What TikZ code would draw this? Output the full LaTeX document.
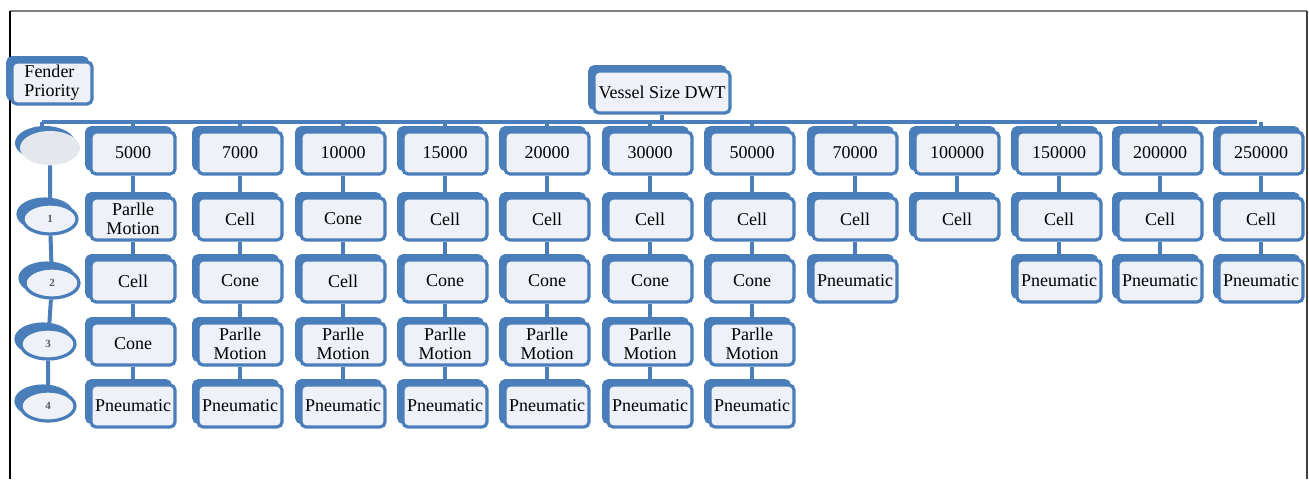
\documentclass[tikz,border=0pt]{standalone}
\usepackage{fontspec}
\setmainfont{Liberation Serif}
\usetikzlibrary{positioning,shapes.geometric,shadows}
\definecolor{fblue}{HTML}{4A7EBB}
\definecolor{fpale}{HTML}{EEF2F8}
\definecolor{fgray}{HTML}{E4E7EC}

\begin{document}
\begin{tikzpicture}[x=0.5pt, y=-0.5pt,
        sbox/.style={draw=fblue, line width=1.6pt, rounded corners=2.5pt, fill=fpale,
            minimum width=42pt, minimum height=21pt, inner sep=1pt, align=center,
            font=\fontsize{9}{9.5}\selectfont,
            general shadow={fill=fblue, draw=fblue, shadow xshift=-2.2pt, shadow yshift=2.2pt}},
        prio/.style={ellipse, draw=fblue, line width=1.6pt, fill=fpale, minimum width=27pt,
            minimum height=15pt, inner sep=0pt, text=black!65, font=\fontsize{5.5}{5.5}\selectfont\bfseries,
            general shadow={fill=fblue, draw=fblue, shadow xshift=-2.5pt, shadow yshift=2.5pt}},
        link/.style={draw=fblue, line width=2pt},
    ]
        \useasboundingbox (0,0) rectangle (1309,479);
        % frame
        \draw[gray, line width=0.6pt] (10,11) -- (1307,11);
        \draw[black, line width=1.2pt] (10,11) -- (10,479);
        \draw[black!75, line width=1.2pt] (1307,11) -- (1307,479);

        % titles
        \node[sbox, align=left, minimum width=40pt] (fp) at (52,83) {Fender\\Priority};
        \node[sbox, minimum width=68pt] (vsz) at (662,92) {Vessel Size DWT};

        % priority column
        \node[ellipse, fill=fgray, minimum width=30pt, minimum height=17pt,
            general shadow={fill=fblue, shadow xshift=-2.5pt, shadow yshift=2.5pt}] (pr0) at (50,148) {};
        \node[prio] (pr1) at (50,219) {1};
        \node[prio] (pr2) at (52,283) {2};
        \node[prio] (pr3) at (48,344) {3};
        \node[prio] (pr4) at (48,406) {4};

        % vessel sizes
        \node[sbox] (s1)  at (133,153)  {5000};
        \node[sbox] (s2)  at (240,153)  {7000};
        \node[sbox] (s3)  at (343,153)  {10000};
        \node[sbox] (s4)  at (445,153)  {15000};
        \node[sbox] (s5)  at (547,153)  {20000};
        \node[sbox] (s6)  at (650,153)  {30000};
        \node[sbox] (s7)  at (752,153)  {50000};
        \node[sbox] (s8)  at (855,153)  {70000};
        \node[sbox] (s9)  at (957,153)  {100000};
        \node[sbox] (s10) at (1059,153) {150000};
        \node[sbox] (s11) at (1160,153) {200000};
        \node[sbox] (s12) at (1261,153) {250000};

        % priority 1
        \node[sbox] (s1a)  at (133,219)  {Parlle\\Motion};
        \node[sbox] (s2a)  at (240,219)  {Cell};
        \node[sbox] (s3a)  at (343,219)  {Cone};
        \node[sbox] (s4a)  at (445,219)  {Cell};
        \node[sbox] (s5a)  at (547,219)  {Cell};
        \node[sbox] (s6a)  at (650,219)  {Cell};
        \node[sbox] (s7a)  at (752,219)  {Cell};
        \node[sbox] (s8a)  at (855,219)  {Cell};
        \node[sbox] (s9a)  at (957,219)  {Cell};
        \node[sbox] (s10a) at (1059,219) {Cell};
        \node[sbox] (s11a) at (1160,219) {Cell};
        \node[sbox] (s12a) at (1261,219) {Cell};

        % priority 2
        \node[sbox] (s1b)  at (133,281)  {Cell};
        \node[sbox] (s2b)  at (240,281)  {Cone};
        \node[sbox] (s3b)  at (343,281)  {Cell};
        \node[sbox] (s4b)  at (445,281)  {Cone};
        \node[sbox] (s5b)  at (547,281)  {Cone};
        \node[sbox] (s6b)  at (650,281)  {Cone};
        \node[sbox] (s7b)  at (752,281)  {Cone};
        \node[sbox] (s8b)  at (855,281)  {Pneumatic};
        \node[sbox] (s10b) at (1059,281) {Pneumatic};
        \node[sbox] (s11b) at (1160,281) {Pneumatic};
        \node[sbox] (s12b) at (1261,281) {Pneumatic};

        % priority 3
        \node[sbox] (s1c) at (133,344) {Cone};
        \node[sbox] (s2c) at (240,344) {Parlle\\Motion};
        \node[sbox] (s3c) at (343,344) {Parlle\\Motion};
        \node[sbox] (s4c) at (445,344) {Parlle\\Motion};
        \node[sbox] (s5c) at (547,344) {Parlle\\Motion};
        \node[sbox] (s6c) at (650,344) {Parlle\\Motion};
        \node[sbox] (s7c) at (752,344) {Parlle\\Motion};

        % priority 4
        \node[sbox] (s1d) at (133,406) {Pneumatic};
        \node[sbox] (s2d) at (240,406) {Pneumatic};
        \node[sbox] (s3d) at (343,406) {Pneumatic};
        \node[sbox] (s4d) at (445,406) {Pneumatic};
        \node[sbox] (s5d) at (547,406) {Pneumatic};
        \node[sbox] (s6d) at (650,406) {Pneumatic};
        \node[sbox] (s7d) at (752,406) {Pneumatic};

        % bus
        \coordinate (busL) at (42,122);
        \coordinate (busR) at (1257,122);
        \draw[link] (busL) -- (busR);
        \draw[link] (busL) -- (busL |- pr0.north);
        \draw[link] (vsz) -- (vsz |- busL);
        \draw[link] (s1 |- busL) -- (s1);   \draw[link] (s2 |- busL) -- (s2);
        \draw[link] (s3 |- busL) -- (s3);   \draw[link] (s4 |- busL) -- (s4);
        \draw[link] (s5 |- busL) -- (s5);   \draw[link] (s6 |- busL) -- (s6);
        \draw[link] (s7 |- busL) -- (s7);   \draw[link] (s8 |- busL) -- (s8);
        \draw[link] (s9 |- busL) -- (s9);   \draw[link] (s10 |- busL) -- (s10);
        \draw[link] (s11 |- busL) -- (s11); \draw[link] (s12 |- busL) -- (s12);

        % chains
        \draw[link] (pr0) -- (pr1) -- (pr2) -- (pr3) -- (pr4);
        \draw[link] (s1) -- (s1a) -- (s1b) -- (s1c) -- (s1d);
        \draw[link] (s2) -- (s2a) -- (s2b) -- (s2c) -- (s2d);
        \draw[link] (s3) -- (s3a) -- (s3b) -- (s3c) -- (s3d);
        \draw[link] (s4) -- (s4a) -- (s4b) -- (s4c) -- (s4d);
        \draw[link] (s5) -- (s5a) -- (s5b) -- (s5c) -- (s5d);
        \draw[link] (s6) -- (s6a) -- (s6b) -- (s6c) -- (s6d);
        \draw[link] (s7) -- (s7a) -- (s7b) -- (s7c) -- (s7d);
        \draw[link] (s8) -- (s8a) -- (s8b);
        \draw[link] (s9) -- (s9a);
        \draw[link] (s10) -- (s10a) -- (s10b);
        \draw[link] (s11) -- (s11a) -- (s11b);
        \draw[link] (s12) -- (s12a) -- (s12b);
    \end{tikzpicture}
\end{document}
